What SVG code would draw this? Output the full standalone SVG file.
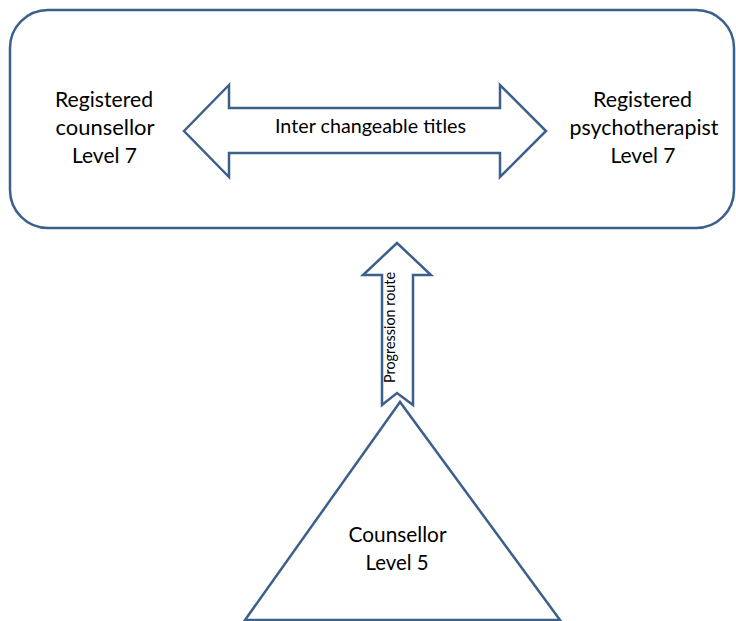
<svg xmlns="http://www.w3.org/2000/svg" width="736" height="621" viewBox="0 0 736 621">
<style>
.shape{fill:#ffffff;stroke:#3B608C;stroke-width:2.5;stroke-linejoin:miter}
.t{font-family:"Lato","Liberation Sans",sans-serif;fill:#000000;text-anchor:middle}
.big{font-size:21.5px}
.mid{font-size:19px}
</style>
<rect width="736" height="621" fill="#ffffff"/>
<g id="level7-box">
<rect class="shape" x="10" y="10" width="724" height="218" rx="38" ry="38"/>
</g>
<g id="registered-counsellor">
<text class="t big" x="104" y="107" textLength="98" lengthAdjust="spacingAndGlyphs">Registered</text>
<text class="t big" x="105" y="135" textLength="99" lengthAdjust="spacingAndGlyphs">counsellor</text>
<text class="t big" x="104.5" y="163" textLength="65" lengthAdjust="spacingAndGlyphs">Level 7</text>
</g>
<g id="registered-psychotherapist">
<text class="t big" x="642.5" y="107" textLength="99" lengthAdjust="spacingAndGlyphs">Registered</text>
<text class="t big" x="644" y="135" textLength="149" lengthAdjust="spacingAndGlyphs">psychotherapist</text>
<text class="t big" x="643" y="163" textLength="65" lengthAdjust="spacingAndGlyphs">Level 7</text>
</g>
<g id="counsellor-level5">
<polygon class="shape" points="400,402 245,620 560,620"/>
<text class="t big" x="397.5" y="542" textLength="98" lengthAdjust="spacingAndGlyphs">Counsellor</text>
<text class="t big" x="397" y="570" textLength="63" lengthAdjust="spacingAndGlyphs">Level 5</text>
</g>
<g id="connectors">
<g id="interchangeable-arrow">
<polygon class="shape" points="184,131 229,85 229,108 500,108 500,85 546,131 500,177 500,153 229,153 229,177"/>
<text class="t mid" x="370.5" y="133" textLength="191" lengthAdjust="spacingAndGlyphs">Inter changeable titles</text>
</g>
<g id="progression-arrow">
<polygon class="shape" points="397,243 431,275 413,275 413,405 397,393 382,405 382,275 363,275"/>
<text class="t" font-size="14.5" transform="translate(395,327.5) rotate(-90)" textLength="111" lengthAdjust="spacingAndGlyphs">Progression route</text>
</g>
</g>
</svg>
